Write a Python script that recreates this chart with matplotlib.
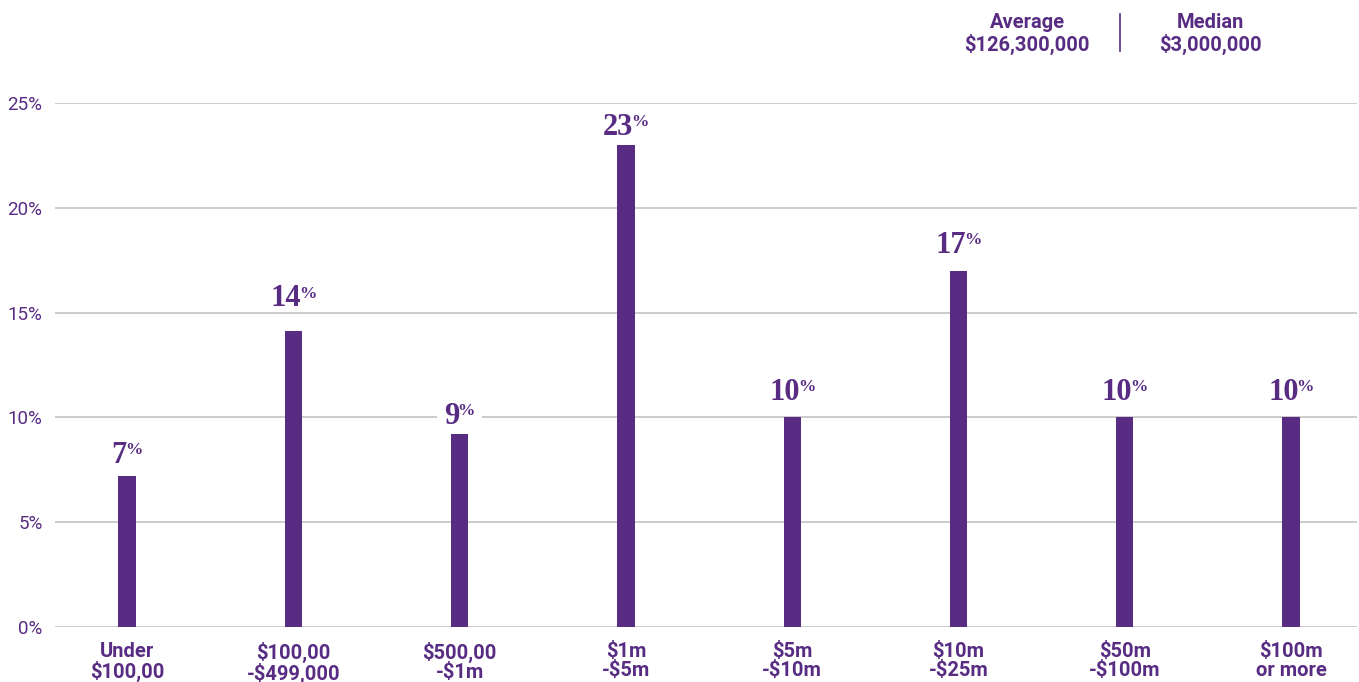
import matplotlib.pyplot as plt
from matplotlib.patches import Rectangle
from matplotlib.transforms import IdentityTransform, Bbox

# data
categories = ["Under\n$100,00", "$100,00\n-$499,000", "$500,00\n-$1m", "$1m\n-$5m",
              "$5m\n-$10m", "$10m\n-$25m", "$50m\n-$100m", "$100m\nor more"]
shares = [7.2, 14.1, 9.2, 23.0, 10.0, 17.0, 10.0, 10.0]
share_labels = ["7", "14", "9", "23", "10", "17", "10", "10"]
yticks = [0, 5, 10, 15, 20, 25]
summary = [("Average", "$126,300,000"), ("Median", "$3,000,000")]

# gap in pixels between bar top and label baseline (labels were hand placed)
label_gap = [13, 25, 10, 10, 17, 18, 17, 17]

purple = "#582c83"
W, H = 1359, 682

fig = plt.figure(figsize=(W / 100, H / 100), dpi=100)
ax = fig.add_axes([55 / W, 55 / H, (1357 - 55) / W, (627 - 103) / H])

x = list(range(len(categories)))
ax.bar(x, shares, width=0.104, color=purple, zorder=3)
ax.set_xlim(-0.433, 7.396)
ax.set_ylim(0, 25)

ax.set_yticks(yticks)
ax.set_yticklabels([f"{t}%" for t in yticks], fontsize=13.5, color=purple,
                   family="Roboto")
ax.yaxis.grid(True, color="#c4c4c4", linewidth=1.2, zorder=0)
ax.tick_params(axis="y", length=0, pad=9)
ax.set_xticks(x)
ax.set_xticklabels(categories, fontsize=14.5, fontweight="bold", color=purple,
                   family="Roboto", linespacing=1.0)
ax.tick_params(axis="x", length=0, pad=11)
for s in ax.spines.values():
    s.set_visible(False)

# value labels: number plus small superscript %
num_fs, pct_fs = 22, 12.5
px = 100 / 72
pairs = []
for xi, v, lab, g in zip(x, shares, share_labels, label_gap):
    tn = ax.annotate(lab, (xi, v), xytext=(0, g), textcoords="offset pixels",
                     ha="right", va="baseline", fontsize=num_fs, fontweight="bold",
                     family="Liberation Serif", color=purple, zorder=5)
    up = g + 0.676 * (num_fs - pct_fs) * px
    tp = ax.annotate("%", (xi, v), xytext=(0, up), textcoords="offset pixels",
                     ha="left", va="baseline", fontsize=pct_fs, fontweight="bold",
                     family="Liberation Serif", color=purple, zorder=5)
    pairs.append((xi, v, tn, tp, g, up))

fig.canvas.draw()
r = fig.canvas.get_renderer()
for xi, v, tn, tp, g, up in pairs:
    wn = tn.get_window_extent(r).width
    wp = tp.get_window_extent(r).width
    shift = -(wn + wp - 2) / 2 + wn
    tn.xyann = (shift, g)
    tp.xyann = (shift - 2, up)

# white patch behind each label so the gridlines break around it
fig.canvas.draw()
for xi, v, tn, tp, g, up in pairs:
    bb = Bbox.union([tn.get_window_extent(r), tp.get_window_extent(r)])
    base = ax.transData.transform((xi, v))[1] + g
    ax.add_patch(Rectangle((bb.x0 - 7, base - 1), bb.width + 14, bb.y1 - base + 3,
                           transform=IdentityTransform(), fc="white", ec="none",
                           zorder=2))

# header summary
for (title, val), cx in zip(summary, [1027, 1210]):
    fig.text(cx / W, 1 - 22 / H, title, ha="center", va="center", fontsize=14.5,
             fontweight="bold", color=purple, family="Roboto")
    fig.text(cx / W, 1 - 44 / H, val, ha="center", va="center", fontsize=14.5,
             fontweight="bold", color=purple, family="Roboto")
fig.add_artist(plt.Line2D([1120 / W, 1120 / W], [1 - 14 / H, 1 - 51 / H],
                          color=purple, linewidth=1.2))

fig.savefig("out.png", dpi=100)
